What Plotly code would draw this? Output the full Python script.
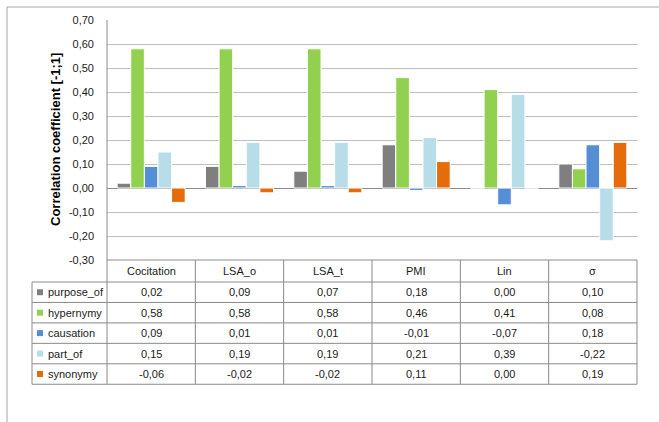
import plotly.graph_objects as go

# Measures (columns of the data table / x categories)
measures = ["Cocitation", "LSA_o", "LSA_t", "PMI", "Lin", "σ"]

# Relation types (series)
relations = ["purpose_of", "hypernymy", "causation", "part_of", "synonymy"]
colors = ["#7f7f7f", "#92d050", "#558ed5", "#b7dee8", "#e46c0a"]

purpose_of = [0.02, 0.09, 0.07, 0.18, 0.00, 0.10]
hypernymy = [0.58, 0.58, 0.58, 0.46, 0.41, 0.08]
causation = [0.09, 0.01, 0.01, -0.01, -0.07, 0.18]
part_of = [0.15, 0.19, 0.19, 0.21, 0.39, -0.22]
synonymy = [-0.06, -0.02, -0.02, 0.11, 0.00, 0.19]
series = [purpose_of, hypernymy, causation, part_of, synonymy]

y_ticks = [0.70, 0.60, 0.50, 0.40, 0.30, 0.20, 0.10, 0.00, -0.10, -0.20, -0.30]

W, H = 659, 422
L, R, T, B = 107, 22, 20, 162
PW, PH = W - L - R, H - T - B
FONT = "Liberation Sans"
GRID = "#bfbfbf"
BORDER = "#8a8a8a"


def px(x):
    return (x - L) / PW


def py(y):
    return (H - B - y) / PH


def fmt(v):
    return f"{v:.2f}".replace(".", ",")


fig = go.Figure()
for name, vals, col in zip(relations, series, colors):
    fig.add_trace(go.Bar(
        x=list(range(len(measures))), y=vals, name=name,
        marker=dict(color=col, line=dict(color="white", width=1)),
    ))

shapes = []
annotations = []

# outer chart frame
shapes.append(dict(type="line", xref="paper", yref="paper",
                   x0=px(7), x1=px(W), y0=py(7), y1=py(7),
                   line=dict(color="#a6a6a6", width=1)))
shapes.append(dict(type="line", xref="paper", yref="paper",
                   x0=px(7), x1=px(7), y0=py(7), y1=py(H),
                   line=dict(color="#a6a6a6", width=1)))

# data table geometry
n = len(measures)
col_edges = [i / n for i in range(n + 1)]
header_top, header_bot = 260, 282
row_h = 20.45
row_edges = [header_bot + i * row_h for i in range(len(relations) + 1)]
legend_left = 32


def hline(x0, x1, y):
    shapes.append(dict(type="line", xref="paper", yref="paper",
                       x0=x0, x1=x1, y0=py(y), y1=py(y),
                       line=dict(color=BORDER, width=1)))


def vline(x, y0, y1):
    shapes.append(dict(type="line", xref="paper", yref="paper",
                       x0=x, x1=x, y0=py(y0), y1=py(y1),
                       line=dict(color=BORDER, width=1)))


hline(0, 1, header_top)
for y in row_edges:
    hline(px(legend_left), 1, y)
vline(px(legend_left), row_edges[0], row_edges[-1])
vline(0, T, row_edges[-1])
for e in col_edges[1:]:
    vline(e, header_top, row_edges[-1])

# header labels
for i, m in enumerate(measures):
    annotations.append(dict(
        xref="paper", yref="paper", x=(col_edges[i] + col_edges[i + 1]) / 2,
        y=py((header_top + header_bot) / 2), text=m, showarrow=False,
        xanchor="center", yanchor="middle",
        font=dict(family=FONT, size=11, color="#1a1a1a")))

# rows: legend key, label and values
for r, (name, vals, col) in enumerate(zip(relations, series, colors)):
    yc = (row_edges[r] + row_edges[r + 1]) / 2
    shapes.append(dict(type="rect", xref="paper", yref="paper",
                       x0=px(37), x1=px(43), y0=py(yc - 3), y1=py(yc + 3),
                       fillcolor=col, line=dict(width=0)))
    annotations.append(dict(
        xref="paper", yref="paper", x=px(46), y=py(yc), text=name,
        showarrow=False, xanchor="left", yanchor="middle",
        font=dict(family=FONT, size=11, color="#1a1a1a")))
    for i, v in enumerate(vals):
        annotations.append(dict(
            xref="paper", yref="paper", x=(col_edges[i] + col_edges[i + 1]) / 2,
            y=py(yc), text=fmt(v), showarrow=False,
            xanchor="center", yanchor="middle",
            font=dict(family=FONT, size=11, color="#1a1a1a")))

# y-axis title
annotations.append(dict(
    xref="paper", yref="paper", x=px(55), y=0.5,
    text="<b>Correlation coefficient [-1;1]</b>", textangle=-90,
    showarrow=False, xanchor="center", yanchor="middle",
    font=dict(family=FONT, size=13, color="#000000")))

fig.update_layout(
    width=W, height=H, autosize=False,
    margin=dict(l=L, r=R, t=T, b=B, pad=0),
    paper_bgcolor="white", plot_bgcolor="white",
    barmode="group", bargap=0.23, bargroupgap=0,
    showlegend=False,
    shapes=shapes, annotations=annotations,
    xaxis=dict(range=[-0.5, n - 0.5], showticklabels=False, showgrid=False,
               zeroline=False, showline=False, ticks=""),
    yaxis=dict(range=[-0.3, 0.7], tickvals=y_ticks,
               ticktext=[fmt(v) for v in y_ticks],
               showgrid=True, gridcolor=GRID, gridwidth=1,
               zeroline=True, zerolinecolor="#8c8c8c", zerolinewidth=1,
               showline=False, ticks="", ticklabelstandoff=12,
               tickfont=dict(family=FONT, size=11, color="#1a1a1a")),
)

fig.write_html("out.html")
